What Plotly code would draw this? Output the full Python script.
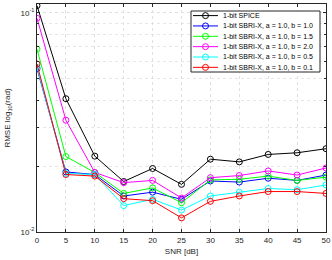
import plotly.graph_objects as go

snr = [0, 5, 10, 15, 20, 25, 30, 35, 40, 45, 50]
spice = [0.108, 0.0406, 0.0222, 0.0170, 0.0195, 0.0165, 0.0215, 0.0209, 0.0226, 0.0230, 0.0240]
sbri_b10 = [0.0557, 0.0188, 0.0183, 0.0146, 0.0152, 0.0141, 0.0171, 0.0169, 0.0176, 0.0172, 0.0182]
sbri_b15 = [0.0684, 0.0221, 0.0187, 0.0150, 0.0159, 0.0136, 0.0173, 0.0174, 0.0180, 0.0172, 0.0178]
sbri_b20 = [0.0946, 0.0324, 0.0187, 0.0168, 0.0172, 0.0143, 0.0177, 0.0181, 0.0190, 0.0182, 0.0196]
sbri_b05 = [0.0565, 0.0185, 0.0183, 0.0132, 0.0141, 0.0126, 0.0146, 0.0152, 0.0158, 0.0156, 0.0164]
sbri_b01 = [0.0585, 0.0183, 0.0180, 0.0142, 0.0139, 0.0116, 0.0138, 0.0146, 0.0153, 0.0153, 0.0150]

names = ["1-bit SPICE",
         "1-bit SBRI-X, a = 1.0, b = 1.0",
         "1-bit SBRI-X, a = 1.0, b = 1.5",
         "1-bit SBRI-X, a = 1.0, b = 2.0",
         "1-bit SBRI-X, a = 1.0, b = 0.5",
         "1-bit SBRI-X, a = 1.0, b = 0.1"]
values = [spice, sbri_b10, sbri_b15, sbri_b20, sbri_b05, sbri_b01]
colors = ["black", "blue", "#00ff00", "magenta", "cyan", "red"]

W, H = 332, 260
ML, MR, MT, MB = 37, 6, 4, 28
PW, PH = W - ML - MR, H - MT - MB

def px(x):
    return (x - ML) / PW

def py(y):
    return (H - MB - y) / PH

fig = go.Figure()
for name, vals, col in zip(names, values, colors):
    fig.add_trace(go.Scatter(
        x=snr, y=vals, name=name, mode="lines+markers",
        line=dict(color=col, width=1),
        marker=dict(symbol="circle-open", size=6, color=col, line=dict(width=1, color=col)),
        showlegend=False,
    ))

# manual compact legend (MATLAB-style)
shapes = [dict(type="rect", xref="paper", yref="paper",
               x0=px(191), x1=px(320), y0=py(72), y1=py(11),
               fillcolor="white", line=dict(color="#262626", width=1), layer="above")]
annotations = []
for i, (name, col) in enumerate(zip(names, colors)):
    yc = 15.6 + i * 10.35
    shapes.append(dict(type="line", xref="paper", yref="paper",
                       x0=px(193), x1=px(218), y0=py(yc), y1=py(yc),
                       line=dict(color=col, width=1), layer="above"))
    shapes.append(dict(type="circle", xref="paper", yref="paper",
                       xsizemode="pixel", ysizemode="pixel",
                       xanchor=px(205.5), yanchor=py(yc),
                       x0=-3, x1=3, y0=-3, y1=3,
                       line=dict(color=col, width=1), layer="above"))
    annotations.append(dict(xref="paper", yref="paper", x=px(221), y=py(yc),
                            xanchor="left", yanchor="middle", showarrow=False,
                            text=name,
                            font=dict(family="Liberation Sans, Arial, sans-serif", size=7, color="black")))

font = dict(family="Liberation Sans, Arial, sans-serif", size=8, color="#262626")
fig.update_layout(
    width=W, height=H,
    margin=dict(l=ML, r=MR, t=MT, b=MB, autoexpand=False),
    paper_bgcolor="white", plot_bgcolor="white",
    font=font,
    showlegend=False,
    shapes=shapes,
    annotations=annotations,
)
fig.update_xaxes(
    range=[0, 50], tickvals=[0, 5, 10, 15, 20, 25, 30, 35, 40, 45, 50],
    showgrid=True, gridcolor="#e0e0e0", griddash="dot", gridwidth=1,
    showline=True, linecolor="#262626", linewidth=1, mirror="ticks",
    ticks="inside", ticklen=3, tickcolor="#262626",
    zeroline=False, automargin=False,
    title=dict(text="SNR [dB]", font=font, standoff=4),
)
fig.update_yaxes(
    type="log", range=[-2, -0.959],
    tickvals=[0.01, 0.1], ticktext=["10<sup>-2</sup>", "10<sup>-1</sup>"],
    showgrid=True, gridcolor="#e0e0e0", griddash="dot", gridwidth=1,
    minor=dict(tickvals=[0.02, 0.03, 0.04, 0.05, 0.06, 0.07, 0.08, 0.09],
               showgrid=True, gridcolor="#e6e6e6", griddash="dot",
               ticks="inside", ticklen=2, tickcolor="#262626"),
    showline=True, linecolor="#262626", linewidth=1, mirror="ticks",
    ticks="inside", ticklen=3, tickcolor="#262626",
    zeroline=False, automargin=False,
    title=dict(text="RMSE log<sub>10</sub>(rad)", font=font, standoff=8),
)
fig.write_html("out.html",
               config={"displayModeBar": False},
               post_script="document.body.style.margin='0';document.body.style.overflow='hidden';")
